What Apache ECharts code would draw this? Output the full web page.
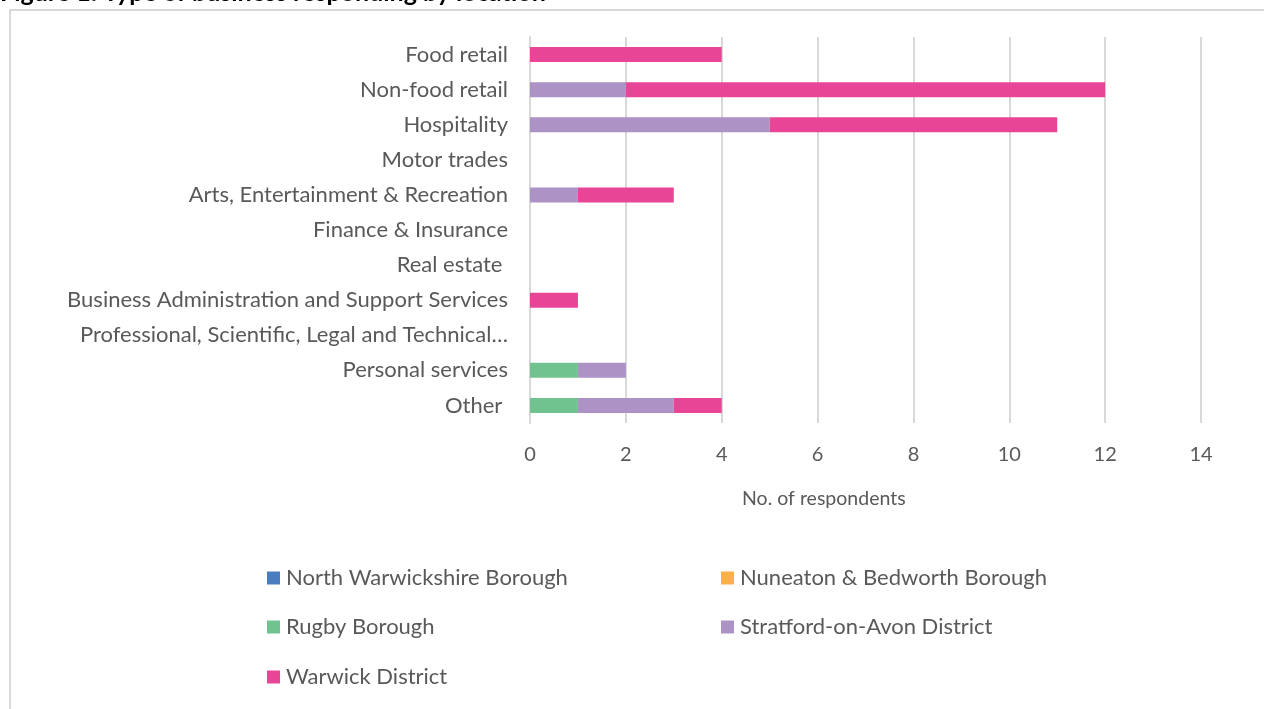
<!DOCTYPE html>
<html>
<head>
<meta charset="utf-8">
<script src="https://cdn.jsdelivr.net/npm/echarts@6/dist/echarts.min.js"></script>
<style>
    html, body { margin: 0; padding: 0; background: #fff; }
    #chart { width: 1264px; height: 709px; }
</style>
</head>
<body>
<div id="chart"></div>
<script>
    // categories, top to bottom as in the picture
    var categories = ['Food retail', 'Non-food retail', 'Hospitality', 'Motor trades',
        'Arts, Entertainment & Recreation', 'Finance & Insurance', 'Real estate ',
        'Business Administration and Support Services',
        'Professional, Scientific, Legal and Technical\u2026', 'Personal services', 'Other '];

    var seriesNames = ['North Warwickshire Borough', 'Nuneaton & Bedworth Borough',
        'Rugby Borough', 'Stratford-on-Avon District', 'Warwick District'];
    var seriesColors = ['#4a7dbf', '#fbb04a', '#70c38e', '#ad92c5', '#e84597'];

    var northWarwickshire = [0, 0, 0, 0, 0, 0, 0, 0, 0, 0, 0];
    var nuneatonBedworth  = [0, 0, 0, 0, 0, 0, 0, 0, 0, 0, 0];
    var rugby             = [0, 0, 0, 0, 0, 0, 0, 0, 0, 1, 1];
    var stratford         = [0, 2, 5, 0, 1, 0, 0, 0, 0, 1, 2];
    var warwick           = [4, 10, 6, 0, 2, 0, 0, 1, 0, 0, 1];

    var xTicks = [0, 2, 4, 6, 8, 10, 12, 14];

    var values = [northWarwickshire, nuneatonBedworth, rugby, stratford, warwick];
    var font = 'Lato';
    var grey = '#595959';

    var series = seriesNames.map(function (name, i) {
        return {
            name: name,
            type: 'bar',
            stack: 'total',
            barWidth: 15,
            itemStyle: {color: seriesColors[i]},
            data: values[i]
        };
    });

    var legendBase = {
        orient: 'horizontal',
        icon: 'rect',
        itemWidth: 13,
        itemHeight: 13,
        itemGap: 0,
        selectedMode: false,
        textStyle: {color: grey, fontSize: 22, fontFamily: font, padding: [0, 0, 0, 1]}
    };
    function legendAt(name, left, top) {
        return Object.assign({}, legendBase, {data: [name], left: left, top: top});
    }

    var chart = echarts.init(document.getElementById('chart'));
    chart.setOption({
        animation: false,
        textStyle: {fontFamily: font},
        grid: {left: 530, right: 63, top: 37, bottom: 286, containLabel: false},
        xAxis: {
            type: 'value',
            min: 0,
            max: 14,
            interval: 2,
            axisLine: {show: false},
            axisTick: {show: false},
            axisLabel: {
                color: grey, fontSize: 20, fontFamily: font, margin: 22,
                formatter: function (v) { return xTicks.indexOf(v) >= 0 ? String(v) : ''; }
            },
            splitLine: {lineStyle: {color: '#d9d9d9', width: 2}}
        },
        yAxis: {
            type: 'category',
            inverse: true,
            data: categories,
            axisLine: {lineStyle: {color: '#d9d9d9', width: 2}},
            axisTick: {show: false},
            axisLabel: {color: grey, fontSize: 22, fontFamily: font, margin: 22}
        },
        legend: [
            legendAt(seriesNames[0], 262, 562),
            legendAt(seriesNames[1], 716, 562),
            legendAt(seriesNames[2], 262, 611),
            legendAt(seriesNames[3], 716, 611),
            legendAt(seriesNames[4], 262, 661)
        ],
        graphic: [
            {
                type: 'rect',
                shape: {x: 10, y: 10, width: 1300, height: 800},
                style: {fill: 'none', stroke: '#d9d9d9', lineWidth: 2},
                silent: true
            },
            {
                type: 'text',
                left: 0,
                top: -20,
                style: {
                    text: 'Figure 1: Type of business responding by location',
                    fill: '#000', fontSize: 25, fontWeight: 'bold', fontFamily: font
                }
            },
            {
                type: 'text',
                left: 742,
                top: 489,
                style: {text: 'No. of respondents', fill: grey, fontSize: 19.5, fontFamily: font}
            }
        ],
        series: series
    });
</script>
</body>
</html>
